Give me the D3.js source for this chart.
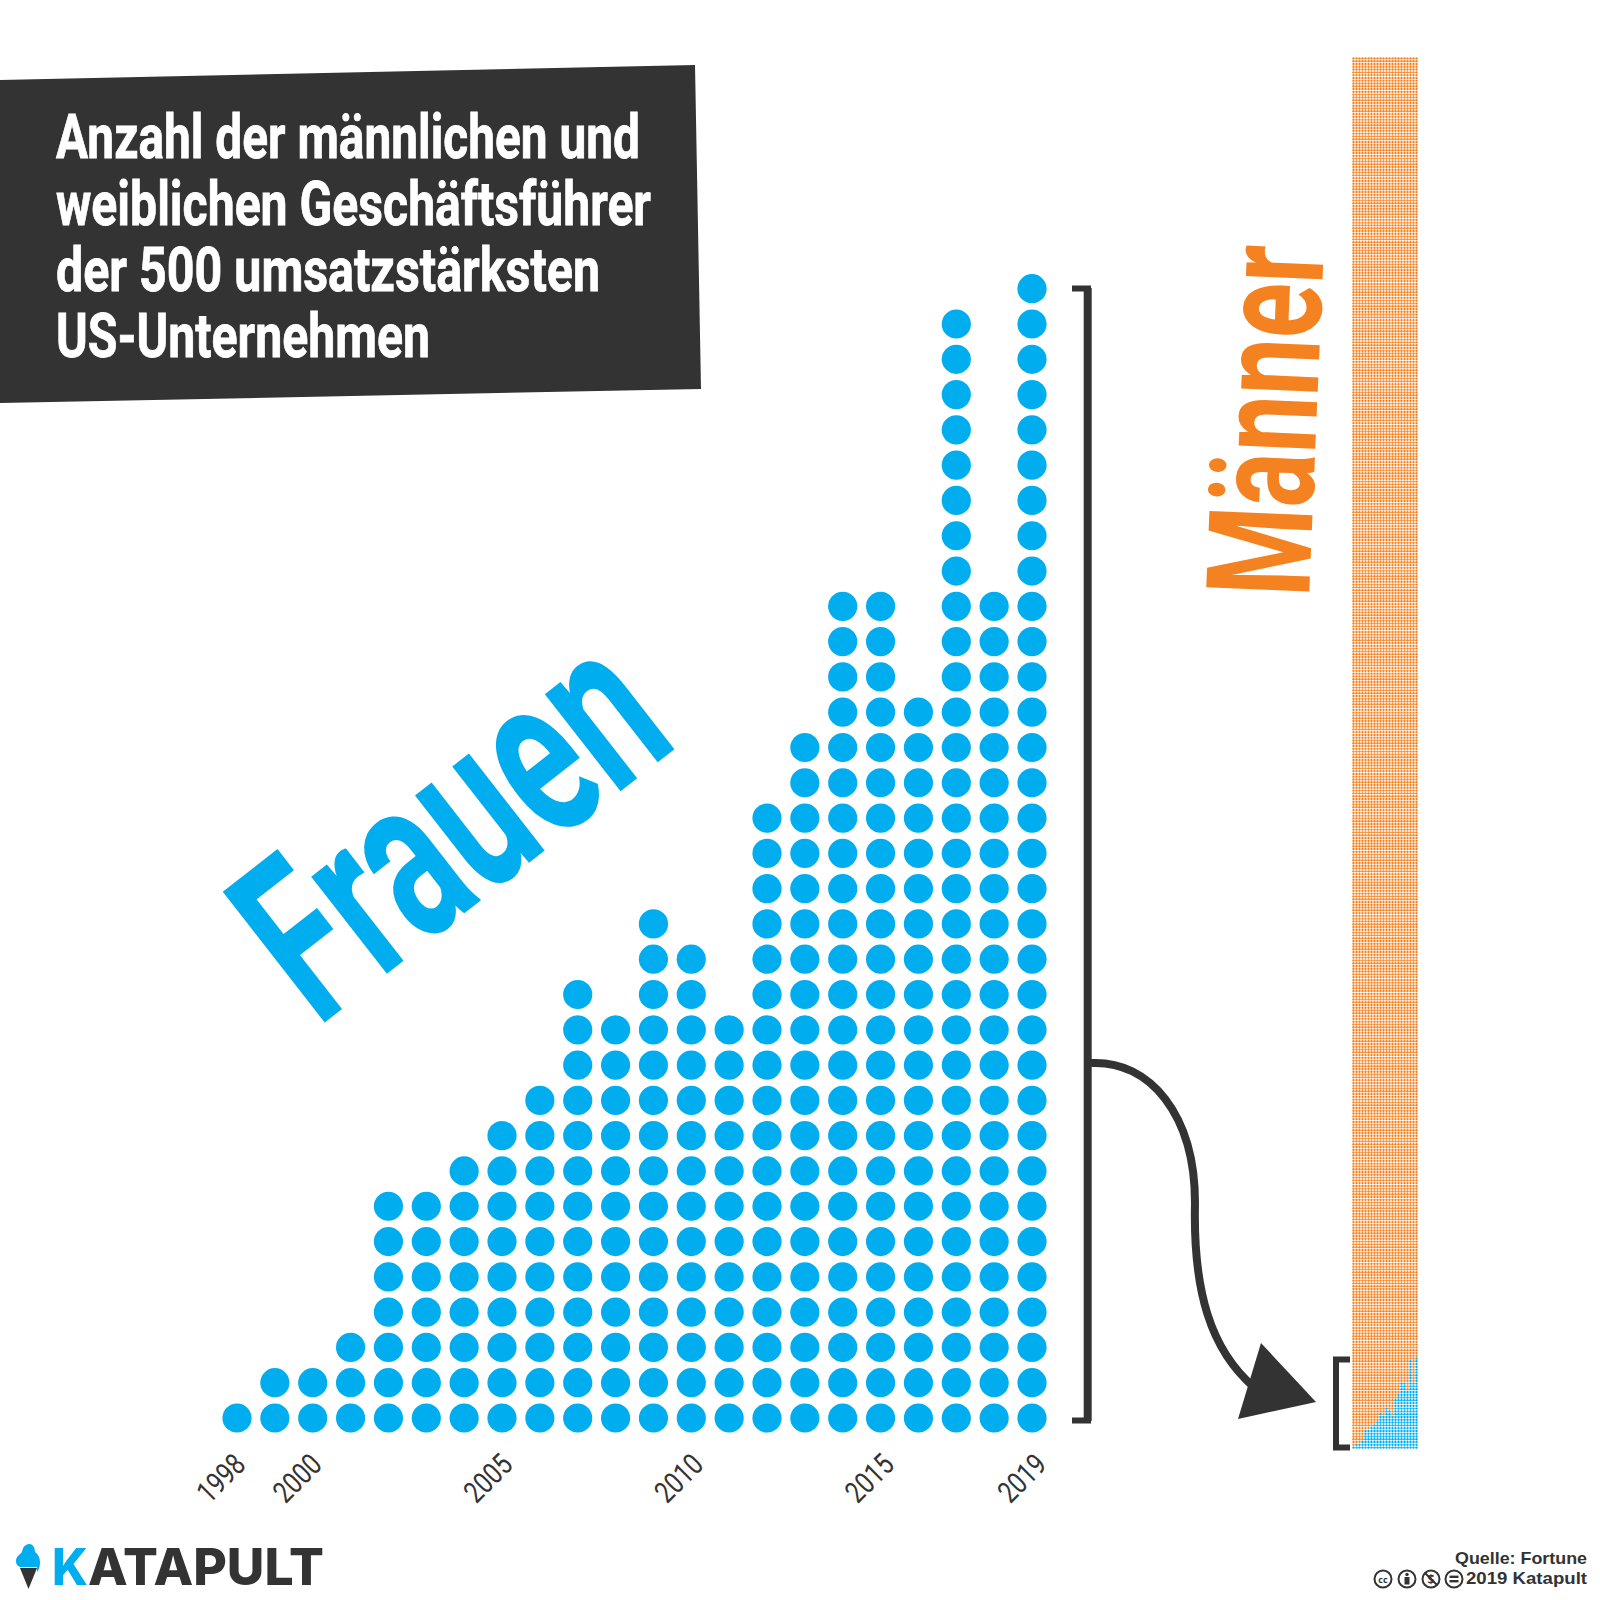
<!DOCTYPE html>
<html lang="de">
<head>
  <meta charset="utf-8" />
  <title>Geschäftsführer Fortune 500</title>
  <style>
    body { margin: 0; padding: 0; background: #fff; }
    svg { display: block; }
    .narrow { font-family: "Roboto", sans-serif; font-weight: 700; }
  </style>
  <script src="https://d3js.org/d3.v7.min.js"></script>
</head>
<body>
  <svg width="1600" height="1600"></svg>
  <script>
    const years = [1998,1999,2000,2001,2002,2003,2004,2005,2006,2007,2008,2009,2010,2011,2012,2013,2014,2015,2016,2017,2018,2019];
    const women = [1,2,2,3,7,7,8,9,10,13,12,15,14,12,18,20,24,24,21,32,24,33];
    const men = [499,498,498,497,493,493,492,491,490,487,488,485,486,488,482,480,476,476,479,468,476,467];
    const tickYears = [1998,2000,2005,2010,2015,2019];
    const titleLines = ["Anzahl der männlichen und","weiblichen Geschäftsführer","der 500 umsatzstärksten","US-Unternehmen"];

    const dark = "#333333", blue = "#00aeef", orange = "#f58220";
    const svg = d3.select("svg");

    // title block
    svg.append("polygon").attr("points", "0,80 695,65 701,389 0,403").attr("fill", dark);
    const titleRight = [640, 651, 600, 430];
    const titleBase = [158, 224.5, 291, 357];
    svg.append("g").selectAll("text").data(titleLines).join("text")
      .attr("class", "narrow")
      .attr("x", 56)
      .attr("y", (d, i) => titleBase[i])
      .attr("font-size", 62)
      .attr("fill", "#fff")
      .attr("stroke", "#fff")
      .attr("stroke-width", 0.8)
      .attr("textLength", (d, i) => titleRight[i] - 56)
      .attr("lengthAdjust", "spacingAndGlyphs")
      .text(d => d);

    // women: one dot per CEO
    const x = d3.scalePoint().domain(years).range([237, 1032]);
    const y = d3.scaleLinear().domain([0, 32]).range([1418, 288.7]);
    const dots = years.flatMap((yr, i) => d3.range(women[i]).map(k => ({ yr, k })));
    svg.append("g").selectAll("circle").data(dots).join("circle")
      .attr("cx", d => x(d.yr))
      .attr("cy", d => y(d.k))
      .attr("r", 14.6)
      .attr("fill", blue);

    // year labels, the offset drifts a bit along the axis in the original
    const labelShift = d3.scaleLinear().domain([1998, 2019]).range([-6, 0]);
    const axis = svg.append("g")
      .attr("transform", "translate(0,1450.5)")
      .call(d3.axisBottom(x).tickValues(tickYears).tickSize(0).tickFormat(d3.format("d")));
    axis.select(".domain").remove();
    axis.selectAll("text")
      .attr("x", d => labelShift(d)).attr("y", 0).attr("dy", 0)
      .attr("transform", d => `rotate(-45 ${labelShift(d)} 0)`)
      .attr("text-anchor", "end")
      .attr("dominant-baseline", "hanging")
      .attr("fill", dark)
      .attr("font-family", "Roboto, sans-serif")
      .attr("font-size", 30)
      .attr("textLength", 54)
      .attr("lengthAdjust", "spacingAndGlyphs");

    // Frauen / Männer
    svg.append("text").attr("class", "narrow")
      .attr("transform", "translate(317.3,1028.2) rotate(-38)")
      .attr("font-size", 233)
      .attr("fill", blue)
      .attr("textLength", 461)
      .attr("lengthAdjust", "spacingAndGlyphs")
      .text("Frauen");
    svg.append("text").attr("class", "narrow")
      .attr("transform", "translate(1309,598) rotate(-87.6)")
      .attr("font-size", 145)
      .attr("fill", orange)
      .attr("textLength", 351)
      .attr("lengthAdjust", "spacingAndGlyphs")
      .text("Männer");

    // big bracket
    svg.append("path")
      .attr("d", "M1072,288.5H1088V1420.5H1072")
      .attr("fill", "none").attr("stroke", dark).attr("stroke-width", 6);
    svg.append("line").attr("x1", 1087.7).attr("x2", 1087.7).attr("y1", 288).attr("y2", 1421)
      .attr("stroke", dark).attr("stroke-width", 8);

    // arrow
    svg.append("path")
      .attr("d", "M1091,1063C1150,1060 1195,1115 1195,1203C1193,1290 1210,1350 1255,1388")
      .attr("fill", "none").attr("stroke", dark).attr("stroke-width", 8);
    svg.append("polygon").attr("points", "1261,1343 1316,1402 1238,1419").attr("fill", dark);

    // small bracket
    svg.append("path")
      .attr("d", "M1350,1359.5H1336V1447.5H1350")
      .attr("fill", "none").attr("stroke", dark).attr("stroke-width", 6);

    // waffle bar with all 500 seats per year
    const xw = d3.scaleBand().domain(years).range([1352, 1418]);
    const yw = d3.scaleLinear().domain([0, 499]).range([1447.6, 58.4]);
    const cells = years.flatMap((yr, i) => d3.range(women[i] + men[i]).map(k => ({ yr, k, w: k < women[i] })));
    svg.append("g").selectAll("circle").data(cells).join("circle")
      .attr("cx", d => xw(d.yr) + xw.bandwidth() / 2)
      .attr("cy", d => yw(d.k))
      .attr("r", 1.18)
      .attr("fill", d => d.w ? blue : orange);

    // logo
    const logo = svg.append("g");
    logo.append("polygon").attr("points", "20,1568 37,1568 28.5,1589").attr("fill", dark);
    logo.append("path")
      .attr("d", "M16,1561C16,1556 20,1555 22,1552C23,1546 26,1544 30,1544C34,1545 35,1549 35,1552C38,1554 40,1558 40,1562C40,1566 39,1570 37,1572V1567H20C17,1566 16,1564 16,1561Z")
      .attr("fill", blue);
    logo.append("text").attr("x", 52).attr("y", 1585)
      .attr("font-family", "Inter, sans-serif").attr("font-weight", 800).attr("font-size", 51)
      .attr("fill", blue).attr("textLength", 36).attr("lengthAdjust", "spacingAndGlyphs").text("K");
    logo.append("text").attr("x", 88).attr("y", 1585)
      .attr("font-family", "Inter, sans-serif").attr("font-weight", 800).attr("font-size", 51)
      .attr("fill", dark).attr("textLength", 236).attr("lengthAdjust", "spacingAndGlyphs").text("ATAPULT");

    // source + licence
    const src = svg.append("g")
      .attr("font-family", '"Liberation Sans", sans-serif').attr("font-weight", 700).attr("font-size", 17)
      .attr("fill", dark).attr("text-anchor", "end");
    src.append("text").attr("x", 1587).attr("y", 1564).attr("textLength", 132).attr("lengthAdjust", "spacingAndGlyphs").text("Quelle: Fortune");
    src.append("text").attr("x", 1587).attr("y", 1584).attr("textLength", 121).attr("lengthAdjust", "spacingAndGlyphs").text("2019 Katapult");

    const cc = svg.append("g");
    [1383, 1407, 1431, 1454].forEach(cx => {
      cc.append("circle").attr("cx", cx).attr("cy", 1579).attr("r", 8.5)
        .attr("fill", "#fff").attr("stroke", dark).attr("stroke-width", 2);
    });
    cc.append("text").attr("x", 1383).attr("y", 1582.5).attr("text-anchor", "middle")
      .attr("font-family", '"Open Sans", sans-serif').attr("font-weight", 700).attr("font-size", 9)
      .attr("fill", dark).text("cc");
    cc.append("circle").attr("cx", 1407).attr("cy", 1574.5).attr("r", 1.7).attr("fill", dark);
    cc.append("rect").attr("x", 1404.5).attr("y", 1577).attr("width", 5).attr("height", 7.5).attr("fill", dark);
    cc.append("text").attr("x", 1431).attr("y", 1583.5).attr("text-anchor", "middle")
      .attr("font-family", '"Open Sans", sans-serif').attr("font-weight", 700).attr("font-size", 12)
      .attr("fill", dark).text("$");
    cc.append("line").attr("x1", 1425).attr("y1", 1573).attr("x2", 1437).attr("y2", 1585)
      .attr("stroke", dark).attr("stroke-width", 2);
    [1576.8, 1581.2].forEach(ly => {
      cc.append("line").attr("x1", 1449.5).attr("x2", 1458.5).attr("y1", ly).attr("y2", ly)
        .attr("stroke", dark).attr("stroke-width", 2.4);
    });
  </script>
</body>
</html>
